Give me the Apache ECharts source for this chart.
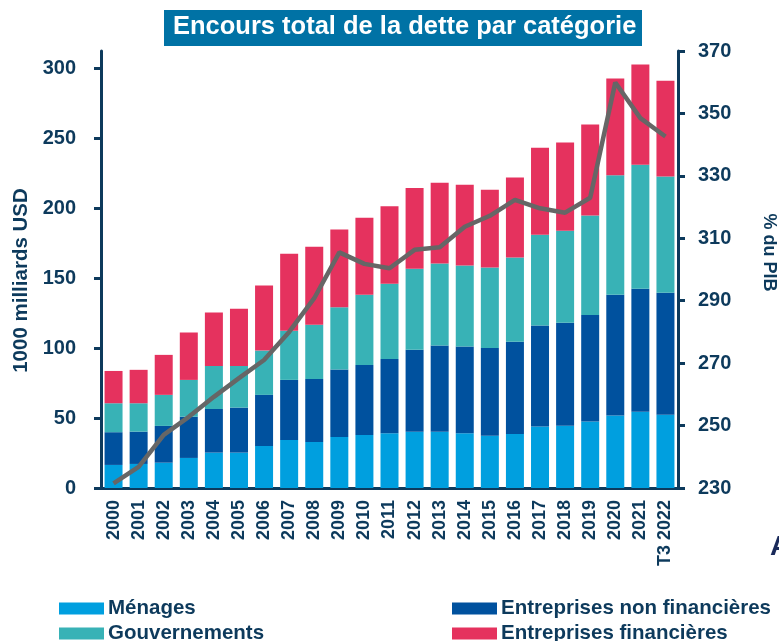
<!DOCTYPE html>
<html>
<head>
<meta charset="utf-8">
<script src="https://cdn.jsdelivr.net/npm/echarts@6/dist/echarts.min.js"></script>
<style>
html,body{margin:0;padding:0;background:#fff;}
#chart{width:779px;height:641px;}
</style>
</head>
<body>
<div id="chart"></div>
<script>
const years=['2000','2001','2002','2003','2004','2005','2006','2007','2008','2009','2010','2011',
    '2012','2013','2014','2015','2016','2017','2018','2019','2020','2021','T3 2022'];
// 1000 milliards USD, du bas vers le haut de la pile
const menages=[16.5,17.2,18.1,21.5,25.3,25.3,30.1,34.4,32.9,36.5,37.9,39.1,40.3,40.3,39.1,37.4,38.7,43.9,44.6,47.5,51.8,54.6,52.3];
const entNonFin=[23.4,23.1,26.3,29.5,31.2,32.2,36.5,42.9,45.1,48.2,50.1,53.2,58.5,61.6,62.0,62.8,65.8,72.3,73.5,76.3,86.4,87.8,87.3];
const gouv=[20.7,20.3,22.2,26.3,30.8,29.8,31.7,35.1,38.7,44.6,50.2,53.7,58.0,58.7,58.0,57.5,60.4,64.9,65.9,71.1,85.4,88.8,83.2];
const entFin=[23.1,23.9,28.6,33.9,38.2,40.8,46.5,55.1,55.8,55.6,55.1,55.5,57.7,57.7,57.8,55.6,57.2,62.3,63.0,65.0,69.2,71.6,68.5];
// % du PIB (axe de droite)
const pctPib=[231.5,236.8,247.0,252.8,259.2,265.2,271.0,280.0,290.8,305.5,301.8,300.4,306.3,307.1,313.7,317.2,322.3,319.6,318.2,323.0,359.9,348.5,342.6];

const NAVY='#0d3a5c';
const FONT='Liberation Sans, Arial, sans-serif';

var chart=echarts.init(document.getElementById('chart'));
var barStyle=function(name,data,color){
    return {name:name,type:'bar',stack:'dette',data:data,barWidth:18,
        itemStyle:{color:color},emphasis:{disabled:true}};
};
// une légende par entrée, pour placer les 2 colonnes comme l'original
var legendItem=function(name,left,top){
    return {left:left,top:top,padding:0,itemWidth:45,itemHeight:12,itemGap:0,icon:'rect',data:[name],
        textStyle:{color:NAVY,fontWeight:'bold',fontSize:20.5,fontFamily:FONT,padding:[0,0,0,-1]}};
};
chart.setOption({
    animation:false,
    graphic:[
        {type:'rect',left:164,top:10,shape:{width:478,height:36},style:{fill:'#0072a5'}},
        {type:'text',left:173,top:14,style:{text:'Encours total de la dette par catégorie',
            fill:'#fff',font:'bold 25.5px '+FONT}},
        {type:'text',left:770,top:533,style:{text:'A',fill:'#1a2a5a',font:'bold 28px '+FONT}}
    ],
    grid:{left:101,right:101,top:51,bottom:153,outerBoundsMode:'none'},
    legend:[
        legendItem('Ménages',59,598),
        legendItem('Gouvernements',59,623),
        legendItem('Entreprises non financières',452,598),
        legendItem('Entreprises financières',452,623)
    ],
    xAxis:{type:'category',data:years,
        axisLine:{lineStyle:{color:NAVY,width:3}},
        axisTick:{lineStyle:{color:NAVY,width:3},length:7},
        axisLabel:{rotate:90,interval:0,color:NAVY,fontWeight:'bold',fontSize:18,fontFamily:FONT,margin:12}},
    yAxis:[
        {type:'value',min:0,max:312.5,interval:50,position:'left',
         name:'1000 milliards USD',nameLocation:'middle',nameGap:68,
         nameTextStyle:{color:NAVY,fontWeight:'bold',fontSize:20.5,fontFamily:FONT,padding:[0,22,0,0]},
         axisLine:{show:true,lineStyle:{color:NAVY,width:3}},
         axisTick:{show:true,length:7,lineStyle:{color:NAVY,width:3}},
         axisLabel:{color:NAVY,fontWeight:'bold',fontSize:20,fontFamily:FONT,margin:25,showMaxLabel:false},
         splitLine:{show:false}},
        {type:'value',min:230,max:370,interval:20,position:'right',
         name:'% du PIB',nameLocation:'middle',nameGap:82,nameRotate:-90,
         nameTextStyle:{color:NAVY,fontWeight:'bold',fontSize:18,fontFamily:FONT,padding:[0,34,0,0]},
         axisLine:{show:true,lineStyle:{color:NAVY,width:3}},
         axisTick:{show:true,length:7,lineStyle:{color:NAVY,width:3}},
         axisLabel:{color:NAVY,fontWeight:'bold',fontSize:20,fontFamily:FONT,margin:20},
         splitLine:{show:false}}
    ],
    series:[
        barStyle('Ménages',menages,'#009fdf'),
        barStyle('Entreprises non financières',entNonFin,'#00519e'),
        barStyle('Gouvernements',gouv,'#38b2b6'),
        barStyle('Entreprises financières',entFin,'#e5325e'),
        {name:'% du PIB',type:'line',yAxisIndex:1,data:pctPib,showSymbol:false,symbol:'none',
         lineStyle:{color:'#666666',width:4.5},z:5,emphasis:{disabled:true}}
    ]
});
</script>
</body>
</html>
